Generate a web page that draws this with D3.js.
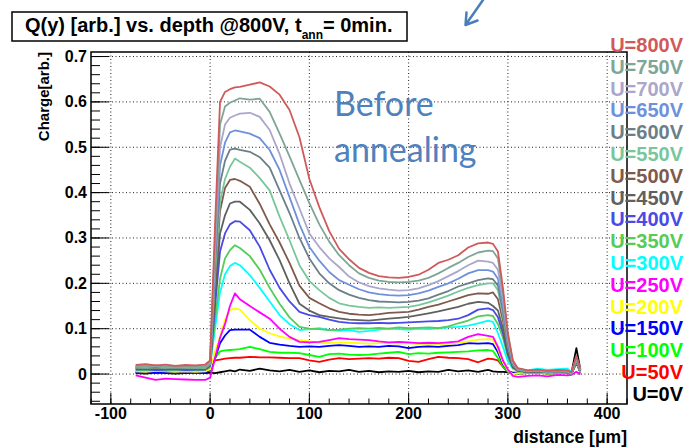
<!DOCTYPE html>
<html>
<head>
	<title></title>
	<style>
		body { margin: 0; background: #fff; }
		text { font-family: "Liberation Sans", Arial, sans-serif; font-weight: bold; }
	</style>
</head>
<body>
	<svg id="container" height="448" width="692"></svg>
</body>
<script src="https://d3js.org/d3.v7.min.js"></script>
<script>
	// distance in um, shared by all voltage curves
	let xs = [-75,-65,-55,-45,-35,-25,-15,-5, 0,5,10,15,20,25,30,
		40,50,60,70,80,90,100,110,120,130, 140,150,160,170,180,190,200,210,220,230,
		240,250,260,270,280, 285,290,295,300,305,310, 320,330,340,350,360,364,369,373]

	let u800 = [0.020,0.022,0.019,0.021,0.018,0.020,0.019,0.021, 0.030,0.330,0.600,0.622,0.628,0.632,0.633,
		0.638,0.643,0.634,0.616,0.582,0.522,0.430,0.368,0.315,0.276, 0.253,0.234,0.223,0.216,0.213,0.212,0.214,0.219,0.230,0.245,
		0.252,0.262,0.279,0.288,0.290, 0.287,0.270,0.190,0.090,0.030,0.013, 0.008,0.010,0.007,0.009,0.008,0.004,0.040,0.012]
	let u750 = [0.018,0.017,0.019,0.016,0.018,0.017,0.018,0.017, 0.028,0.300,0.550,0.590,0.598,0.603,0.608,
		0.605,0.607,0.578,0.530,0.480,0.428,0.377,0.330,0.292,0.262, 0.240,0.222,0.212,0.206,0.203,0.202,0.203,0.206,0.212,0.222,
		0.234,0.245,0.258,0.268,0.272, 0.271,0.255,0.180,0.085,0.028,0.012, 0.007,0.009,0.006,0.008,0.007,0.003,0.038,0.010]
	let u700 = [0.017,0.016,0.018,0.015,0.017,0.016,0.017,0.016, 0.026,0.280,0.500,0.550,0.565,0.570,0.574,
		0.576,0.567,0.538,0.485,0.420,0.365,0.310,0.280,0.255,0.236, 0.215,0.202,0.194,0.189,0.186,0.184,0.185,0.189,0.196,0.205,
		0.216,0.227,0.240,0.250,0.248, 0.245,0.230,0.165,0.080,0.026,0.011, 0.007,0.008,0.006,0.008,0.006,0.002,0.036,0.010]
	let u650 = [0.016,0.015,0.017,0.016,0.015,0.016,0.015,0.016, 0.025,0.260,0.460,0.510,0.533,0.537,0.535,
		0.530,0.520,0.494,0.450,0.390,0.330,0.280,0.250,0.225,0.207, 0.197,0.187,0.180,0.176,0.174,0.173,0.174,0.178,0.184,0.192,
		0.200,0.210,0.222,0.229,0.229, 0.226,0.210,0.150,0.072,0.024,0.010, 0.006,0.008,0.005,0.007,0.006,0.002,0.034,0.009]
	let u600 = [0.015,0.014,0.016,0.014,0.015,0.014,0.016,0.015, 0.024,0.240,0.420,0.470,0.495,0.497,0.494,
		0.490,0.478,0.455,0.405,0.355,0.300,0.255,0.222,0.200,0.185, 0.175,0.168,0.163,0.160,0.159,0.158,0.159,0.162,0.167,0.175,
		0.183,0.193,0.200,0.207,0.211, 0.209,0.195,0.140,0.066,0.022,0.010, 0.006,0.007,0.005,0.007,0.005,0.002,0.033,0.009]
	let u550 = [0.014,0.013,0.015,0.013,0.014,0.013,0.014,0.013, 0.022,0.220,0.380,0.430,0.457,0.475,0.468,
		0.455,0.432,0.405,0.347,0.295,0.240,0.205,0.185,0.168,0.156, 0.151,0.148,0.146,0.147,0.146,0.147,0.148,0.152,0.158,0.165,
		0.173,0.182,0.190,0.196,0.200, 0.200,0.185,0.130,0.062,0.021,0.009, 0.006,0.007,0.004,0.006,0.005,0.001,0.032,0.008]
	let u500 = [0.013,0.012,0.014,0.012,0.013,0.012,0.013,0.012, 0.021,0.200,0.360,0.410,0.428,0.430,0.426,
		0.413,0.375,0.330,0.290,0.245,0.195,0.168,0.156,0.145,0.137, 0.133,0.131,0.130,0.132,0.135,0.136,0.137,0.142,0.148,0.153,
		0.160,0.167,0.174,0.178,0.177, 0.180,0.165,0.118,0.055,0.018,0.008, 0.005,0.007,0.004,0.006,0.005,0.001,0.031,0.008]
	let u450 = [0.012,0.011,0.013,0.012,0.011,0.012,0.011,0.012, 0.020,0.170,0.310,0.350,0.376,0.380,0.380,
		0.362,0.332,0.295,0.251,0.200,0.155,0.140,0.130,0.126,0.123, 0.120,0.119,0.118,0.120,0.122,0.124,0.126,0.130,0.134,0.138,
		0.143,0.148,0.155,0.159,0.157, 0.150,0.140,0.100,0.048,0.016,0.008, 0.005,0.006,0.004,0.006,0.004,0.001,0.030,0.008]
	let u400 = [0.010,0.011,0.009,0.010,0.011,0.009,0.010,0.010, 0.018,0.150,0.270,0.310,0.330,0.337,0.336,
		0.317,0.281,0.230,0.190,0.160,0.137,0.130,0.126,0.120,0.115, 0.113,0.112,0.112,0.113,0.112,0.113,0.114,0.115,0.116,0.117,
		0.119,0.122,0.130,0.142,0.145, 0.141,0.125,0.090,0.043,0.015,0.007, 0.005,0.006,0.004,0.005,0.004,0.001,0.030,0.007]
	let u350 = [0.008,0.009,0.008,0.007,0.009,0.008,0.008,0.009, 0.016,0.120,0.210,0.255,0.273,0.284,0.278,
		0.260,0.230,0.190,0.155,0.125,0.104,0.100,0.099,0.097,0.098, 0.100,0.101,0.100,0.102,0.100,0.103,0.101,0.102,0.103,0.101,
		0.105,0.112,0.118,0.127,0.130, 0.128,0.110,0.080,0.038,0.013,0.006, 0.004,0.005,0.003,0.005,0.004,0.000,0.030,0.007]
	let u300 = [0.016,0.018,0.015,0.017,0.016,0.018,0.016,0.017, 0.020,0.100,0.180,0.220,0.238,0.245,0.240,
		0.218,0.190,0.160,0.130,0.110,0.097,0.099,0.101,0.097,0.095, 0.097,0.093,0.095,0.098,0.100,0.099,0.098,0.100,0.099,0.101,
		0.103,0.104,0.107,0.112,0.118, 0.115,0.090,0.060,0.028,0.012,0.012, 0.008,0.012,0.009,0.011,0.012,0.005,0.030,0.012]
	let u250 = [-0.003,-0.008,-0.013,-0.010,-0.011,-0.012,-0.013,-0.013, -0.008,0.035,0.080,0.110,0.150,0.178,0.165,
		0.150,0.136,0.122,0.100,0.082,0.071,0.070,0.071,0.075,0.079, 0.077,0.076,0.075,0.072,0.070,0.071,0.070,0.068,0.069,0.068,
		0.070,0.072,0.082,0.088,0.084, 0.082,0.060,0.030,0.010,-0.004,-0.006, -0.004,-0.003,-0.005,-0.002,-0.003,-0.002,0.005,-0.001]
	let u200 = [0.006,0.005,0.007,0.006,0.005,0.006,0.005,0.006, 0.010,0.050,0.082,0.120,0.141,0.145,0.142,
		0.119,0.100,0.090,0.083,0.078,0.075,0.072,0.069,0.068,0.070, 0.069,0.068,0.067,0.068,0.068,0.067,0.068,0.066,0.067,0.066,
		0.067,0.068,0.072,0.076,0.077, 0.076,0.055,0.025,0.007,0.000,0.002, 0.003,0.004,0.002,0.004,0.003,0.001,0.028,0.005]
	let u150 = [0.004,0.005,0.003,0.004,0.005,0.004,0.003,0.004, 0.008,0.035,0.068,0.085,0.097,0.098,0.098,
		0.098,0.082,0.069,0.065,0.062,0.060,0.061,0.060,0.062,0.064, 0.062,0.060,0.061,0.060,0.062,0.061,0.057,0.060,0.061,0.060,
		0.062,0.064,0.068,0.067,0.068, 0.066,0.048,0.022,0.007,0.002,0.002, 0.003,0.004,0.002,0.003,0.003,0.001,0.026,0.004]
	let u100 = [0.006,0.005,0.007,0.006,0.007,0.006,0.005,0.006, 0.010,0.035,0.050,0.052,0.053,0.054,0.055,
		0.060,0.055,0.049,0.047,0.047,0.046,0.042,0.038,0.044,0.045, 0.043,0.042,0.043,0.045,0.047,0.049,0.044,0.046,0.045,0.047,
		0.048,0.049,0.050,0.052,0.053, 0.051,0.035,0.017,0.006,0.001,0.001, 0.002,0.003,0.001,0.002,0.003,0.000,0.025,0.004]
	let u50 = [0.004,0.003,0.005,0.004,0.003,0.004,0.005,0.004, 0.015,0.030,0.032,0.034,0.035,0.036,0.036,
		0.038,0.037,0.037,0.036,0.035,0.035,0.030,0.027,0.032,0.035, 0.033,0.034,0.035,0.034,0.036,0.035,0.029,0.027,0.033,0.038,
		0.036,0.035,0.033,0.026,0.034, 0.033,0.030,0.016,0.005,0.001,0.001, 0.002,0.003,0.001,0.002,0.002,0.000,0.025,0.003]
	let u0 = [0.002,0.001,0.003,0.002,0.001,0.002,0.003,0.002, 0.003,0.002,0.004,0.006,0.008,0.006,0.010,
		0.007,0.012,0.008,0.006,0.009,0.005,0.008,0.004,0.007,0.006, 0.009,0.005,0.007,0.004,0.006,0.005,0.007,0.004,0.006,0.005,
		0.009,0.006,0.008,0.005,0.009, 0.006,0.005,0.005,0.004,0.003,0.003, 0.004,0.006,0.003,0.005,0.004,0.002,0.057,0.010]

	let labels = ["U=800V","U=750V","U=700V","U=650V","U=600V","U=550V","U=500V","U=450V","U=400V",
		"U=350V","U=300V","U=250V","U=200V","U=150V","U=100V","U=50V","U=0V"]
	let curves = [u800,u750,u700,u650,u600,u550,u500,u450,u400,u350,u300,u250,u200,u150,u100,u50,u0]
	let colors = ["#d05a5a","#7fa596","#aaa6cc","#6e91dc","#6b7f88","#77c79a","#7f5a4c","#5f6060","#4a4ae6",
		"#55cc55","#00ffff","#ff00ff","#ffff00","#0000ff","#00ff00","#ff0000","#000000"]

	let xTicks = [-100,0,100,200,300,400]
	let yTicks = [0,0.1,0.2,0.3,0.4,0.5,0.6,0.7]

	let svg = d3.select("#container")

	let pLeft = 91, pRight = 627, pTop = 52, pBottom = 404

	let x = d3.scaleLinear().domain([-120,420]).range([pLeft,pRight])
	let y = d3.scaleLinear().domain([-0.066,0.71]).range([pBottom,pTop])

	// grid
	svg.selectAll(".gx").data(xTicks).enter().append("line")
		.attr("x1", d => x(d)).attr("x2", d => x(d))
		.attr("y1", pTop).attr("y2", pBottom)
		.attr("stroke", "#222").attr("stroke-width", 1).attr("stroke-dasharray", "1,2.5")
	svg.selectAll(".gy").data(yTicks).enter().append("line")
		.attr("x1", pLeft).attr("x2", pRight)
		.attr("y1", d => y(d)).attr("y2", d => y(d))
		.attr("stroke", "#222").attr("stroke-width", 1).attr("stroke-dasharray", "1,2.5")

	// curves, low voltage first
	let line = d3.line()
		.x((d,i) => x(xs[i]))
		.y(d => y(d))

	let order = d3.range(curves.length).reverse()
	svg.selectAll(".curve").data(order).enter().append("path")
		.attr("d", i => line(curves[i]))
		.attr("fill", "none")
		.attr("stroke", i => colors[i])
		.attr("stroke-width", 1.8)
		.attr("stroke-linejoin", "round")

	// frame
	svg.append("rect")
		.attr("x", pLeft).attr("y", pTop)
		.attr("width", pRight-pLeft).attr("height", pBottom-pTop)
		.attr("fill", "none").attr("stroke", "#000").attr("stroke-width", 1.5)

	// y axis ticks
	let yMinor = d3.range(-0.06, 0.7001, 0.02)
	svg.selectAll(".ym").data(yMinor).enter().append("line")
		.attr("x1", pLeft).attr("x2", pLeft+9)
		.attr("y1", d => y(d)).attr("y2", d => y(d))
		.attr("stroke", "#000").attr("stroke-width", 1)
	svg.selectAll(".yM").data(yTicks).enter().append("line")
		.attr("x1", pLeft).attr("x2", pLeft+18)
		.attr("y1", d => y(d)).attr("y2", d => y(d))
		.attr("stroke", "#000").attr("stroke-width", 1)
	svg.selectAll(".yl").data(yTicks).enter().append("text")
		.attr("x", pLeft-4).attr("y", d => y(d)+5.5)
		.attr("text-anchor", "end")
		.attr("font-size", 16)
		.text(d => d3.format(".1~f")(d))

	// x axis ticks
	let xMinor = d3.range(-120, 421, 20)
	svg.selectAll(".xm").data(xMinor).enter().append("line")
		.attr("x1", d => x(d)).attr("x2", d => x(d))
		.attr("y1", pBottom).attr("y2", pBottom-5.5)
		.attr("stroke", "#000").attr("stroke-width", 1)
	svg.selectAll(".xM").data(xTicks).enter().append("line")
		.attr("x1", d => x(d)).attr("x2", d => x(d))
		.attr("y1", pBottom).attr("y2", pBottom-11)
		.attr("stroke", "#000").attr("stroke-width", 1)
	svg.selectAll(".xl").data(xTicks).enter().append("text")
		.attr("x", d => x(d)).attr("y", pBottom+14.5)
		.attr("text-anchor", "middle")
		.attr("font-size", 16)
		.text(d => d)

	// axis titles
	svg.append("text")
		.attr("x", pRight).attr("y", 443)
		.attr("text-anchor", "end")
		.attr("font-size", 17.5)
		.text("distance [\u03bcm]")
	svg.append("text")
		.attr("transform", "translate(49," + pTop + ") rotate(-90)")
		.attr("text-anchor", "end")
		.attr("font-size", 15)
		.text("Charge[arb.]")

	// title box
	svg.append("rect")
		.attr("x", 12).attr("y", 12).attr("width", 395).attr("height", 29)
		.attr("fill", "#fff").attr("stroke", "#000").attr("stroke-width", 1.5)
	let title = svg.append("text")
		.attr("x", 25).attr("y", 32)
		.attr("font-size", 20)
	title.append("tspan").text("Q(y) [arb.] vs. depth @800V, t")
	title.append("tspan").attr("font-size", 12).attr("dy", 7).text("ann")
	title.append("tspan").attr("dy", -7).text("= 0min.")

	// legend
	svg.selectAll(".leg").data(labels).enter().append("text")
		.attr("x", 683)
		.attr("y", (d,i) => 52 + i*21.8)
		.attr("text-anchor", "end")
		.attr("font-size", 20)
		.attr("fill", (d,i) => colors[i])
		.text(d => d)

	// annotation
	let note = svg.append("text")
		.attr("x", 334).attr("y", 116)
		.attr("fill", "#4f81bd")
		.attr("font-size", 34)
		.style("font-family", "Lato, 'Open Sans', sans-serif")
		.style("font-weight", "normal")
	note.append("tspan").text("Before")
	note.append("tspan").attr("x", 334).attr("dy", 46).text("annealing")

	svg.append("path")
		.attr("d", "M483,0 L465.5,25 M466.5,12.5 L465.5,25 L477.5,20.5")
		.attr("fill", "none")
		.attr("stroke", "#4a7ebb")
		.attr("stroke-width", 2.5)
		.attr("stroke-linecap", "round")
		.attr("stroke-linejoin", "round")
</script>
</html>
